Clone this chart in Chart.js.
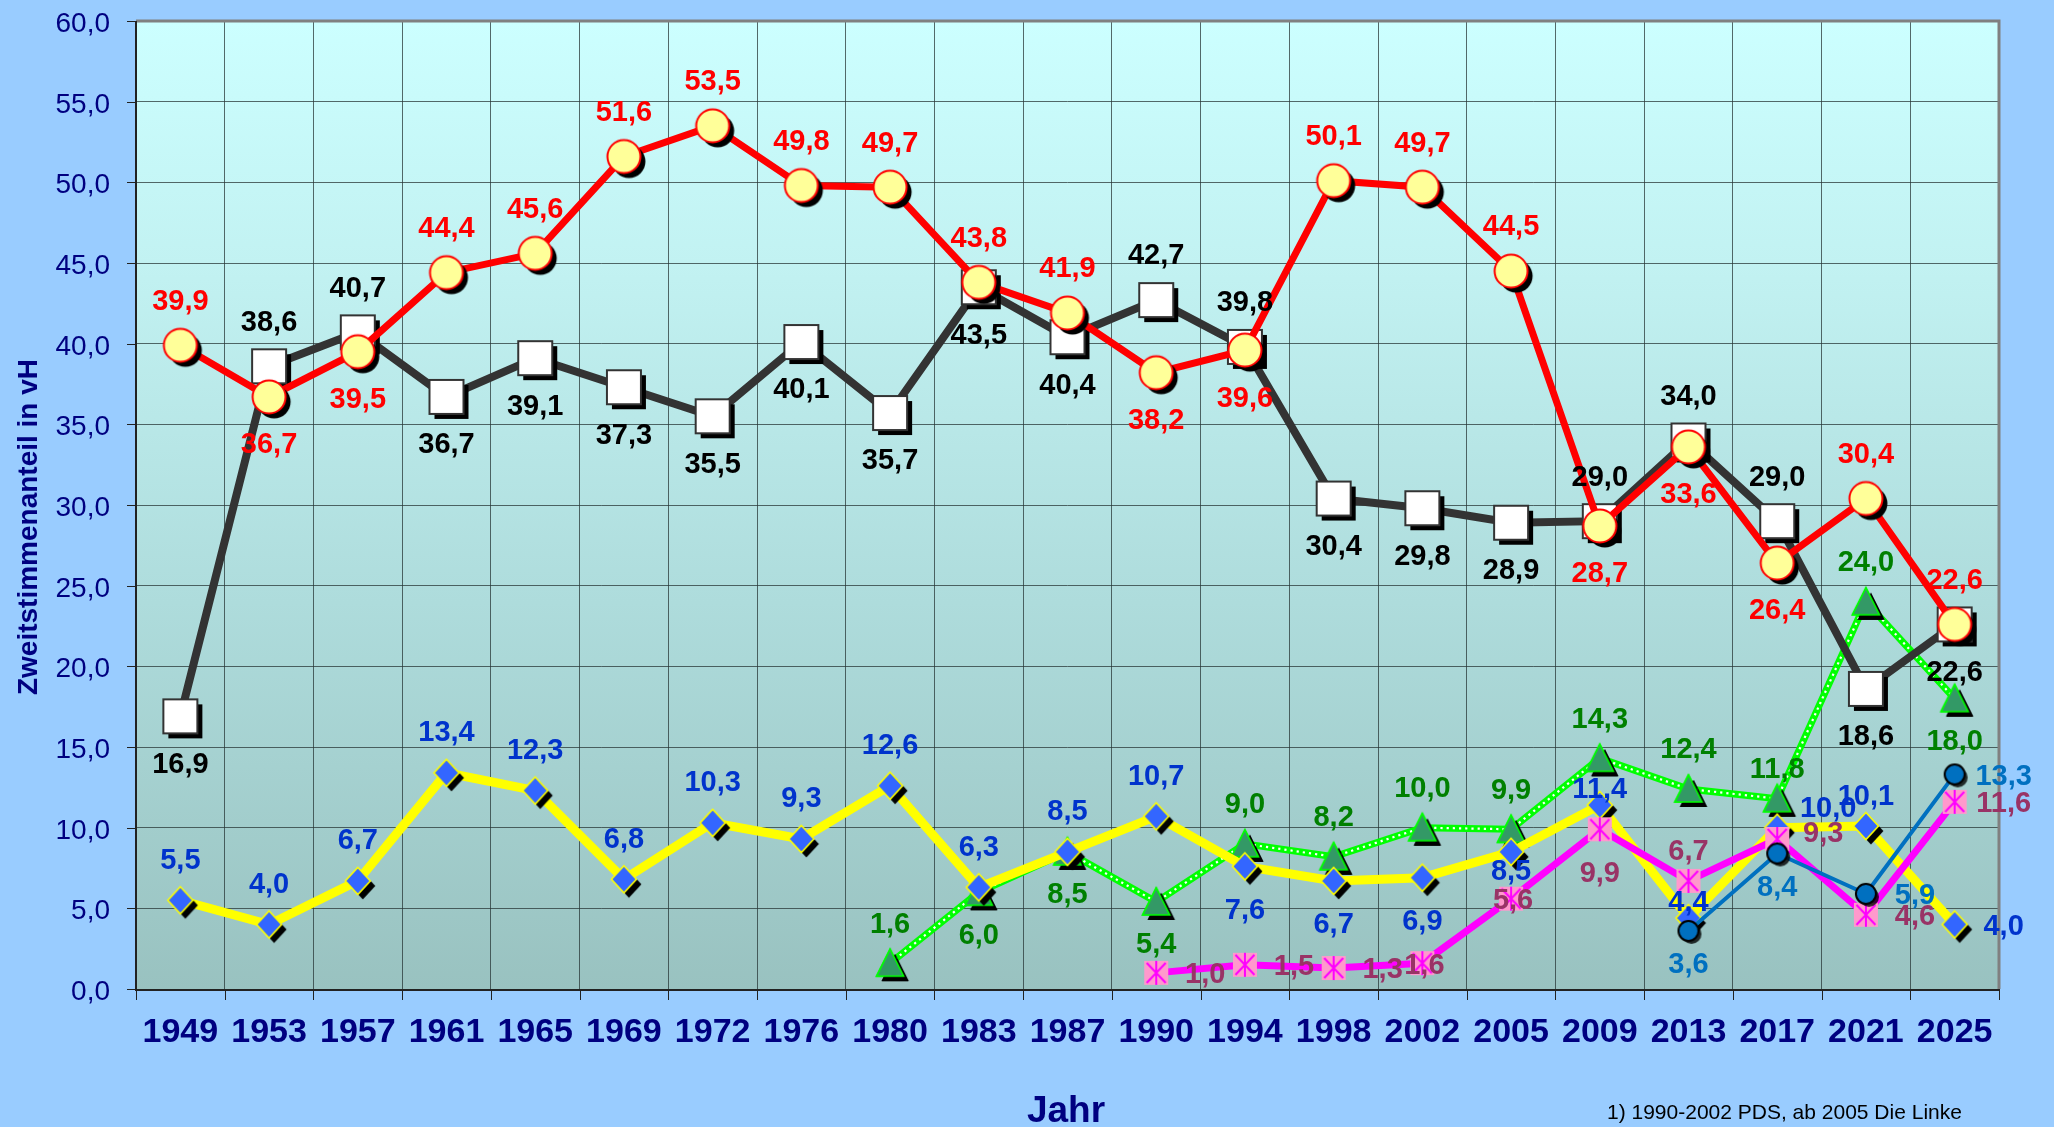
<!DOCTYPE html>
<html>
<head>
<meta charset="utf-8">
<script src="https://cdn.jsdelivr.net/npm/chart.js@4/dist/chart.umd.min.js"></script>
<style>
html,body{margin:0;padding:0;background:#99CCFF;overflow:hidden;}
#c{display:block;}
</style>
</head>
<body>
<canvas id="c" width="2054" height="1127" style="width:2054px;height:1127px"></canvas>
<script>
// ---------------- DATA ----------------
const years = ['1949','1953','1957','1961','1965','1969','1972','1976','1980','1983','1987','1990','1994','1998','2002','2005','2009','2013','2017','2021','2025'];
const yTickLabels = ['0,0','5,0','10,0','15,0','20,0','25,0','30,0','35,0','40,0','45,0','50,0','55,0','60,0'];
const redValues   = [39.9,36.7,39.5,44.4,45.6,51.6,53.5,49.8,49.7,43.8,41.9,38.2,39.6,50.1,49.7,44.5,28.7,33.6,26.4,30.4,22.6];
const blackValues = [16.9,38.6,40.7,36.7,39.1,37.3,35.5,40.1,35.7,43.5,40.4,42.7,39.8,30.4,29.8,28.9,29.0,34.0,29.0,18.6,22.6];
const yellowValues= [5.5,4.0,6.7,13.4,12.3,6.8,10.3,9.3,12.6,6.3,8.5,10.7,7.6,6.7,6.9,8.5,11.4,4.4,10.0,10.1,4.0];
const greenValues = [null,null,null,null,null,null,null,null,1.6,6.0,8.5,5.4,9.0,8.2,10.0,9.9,14.3,12.4,11.8,24.0,18.0];
const pinkValues  = [null,null,null,null,null,null,null,null,null,null,null,1.0,1.5,1.3,1.6,5.6,9.9,6.7,9.3,4.6,11.6];
const blueValues  = [null,null,null,null,null,null,null,null,null,null,null,null,null,null,null,null,null,3.6,8.4,5.9,13.3];
const xTitle = 'Jahr';
const yTitle = 'Zweitstimmenanteil in vH';
const footnote = '1) 1990-2002 PDS, ab 2005 Die Linke';

// label placement codes (a=above, b=below, r=right, c=centre, ...)
const redPlace    = ['a','b','b','a','a','a','a','a','a','a','a','b','b','a','a','a','b','b','b','a','a'];
const blackPlace  = ['b','a','a','b','b','b','b','b','b','b','b','a','a','b','b','b','a','a','a','b','b'];
const yellowPlace = ['a','a','a','a','a','a','a','a','a','a','a','a','b','b','b','bn','an','an','rU','am','r'];
const greenPlace  = [null,null,null,null,null,null,null,null,'a','b','b','b','a','a','a','a','a','a','am','a','b'];
const pinkPlace   = [null,null,null,null,null,null,null,null,null,null,null,'r','r','r','c','c','b','am','ru','r','r'];
const bluePlace   = [null,null,null,null,null,null,null,null,null,null,null,null,null,null,null,null,null,'bm','bm','r','r'];

// ---------------- STYLE ----------------
const FONT = '"Liberation Sans", Arial, sans-serif';
const NAVY = '#000080';

function markerCanvas(size, off, draw) {
  const pad = off + 3;
  let S = Math.ceil(size + 2 * pad); if (S % 2) S++;
  const c = document.createElement('canvas'); c.width = S; c.height = S;
  const g = c.getContext('2d'); const m = S / 2;
  if (off) draw(g, m + off, m + off, true);
  draw(g, m, m, false);
  return c;
}
const circleImg = markerCanvas(34, 5, (g, x, y, sh) => {
  g.beginPath(); g.arc(x, y, 16.5, 0, Math.PI * 2);
  if (sh) { g.fillStyle = '#000'; g.fill(); }
  else { g.fillStyle = '#FFFF99'; g.fill(); g.lineWidth = 2; g.strokeStyle = '#FF0000'; g.stroke(); }
});
const squareImg = markerCanvas(35, 5, (g, x, y, sh) => {
  const h = 17;
  if (sh) { g.fillStyle = '#000'; g.fillRect(x - h, y - h, 2 * h, 2 * h); }
  else { g.fillStyle = '#FFFFFF'; g.fillRect(x - h, y - h, 2 * h, 2 * h); g.lineWidth = 2; g.strokeStyle = '#333'; g.strokeRect(x - h, y - h, 2 * h, 2 * h); }
});
const diamondImg = markerCanvas(28, 5, (g, x, y, sh) => {
  g.beginPath(); g.moveTo(x, y - 13.5); g.lineTo(x + 12.5, y); g.lineTo(x, y + 13.5); g.lineTo(x - 12.5, y); g.closePath();
  if (sh) { g.fillStyle = '#000'; g.fill(); }
  else { g.fillStyle = '#3366FF'; g.fill(); g.lineWidth = 1.6; g.strokeStyle = '#FFFF00'; g.stroke(); }
});
const triangleImg = markerCanvas(29, 5, (g, x, y, sh) => {
  g.beginPath(); g.moveTo(x, y - 14); g.lineTo(x + 13.5, y + 13); g.lineTo(x - 13.5, y + 13); g.closePath();
  if (sh) { g.fillStyle = '#000'; g.fill(); }
  else { g.fillStyle = '#339966'; g.fill(); g.lineWidth = 1.6; g.strokeStyle = '#00FF00'; g.stroke(); }
});
const starImg = markerCanvas(26, 0, (g, x, y) => {
  g.fillStyle = '#FF99CC'; g.fillRect(x - 12, y - 12, 24, 24);
  g.strokeStyle = '#FF00FF'; g.lineWidth = 2;
  g.beginPath();
  g.moveTo(x, y - 12); g.lineTo(x, y + 12);
  g.moveTo(x - 9.5, y - 10); g.lineTo(x + 9.5, y + 10);
  g.moveTo(x + 9.5, y - 10); g.lineTo(x - 9.5, y + 10);
  g.stroke();
});
const dotImg = markerCanvas(22, 3, (g, x, y, sh) => {
  g.beginPath(); g.arc(x, y, 10, 0, Math.PI * 2);
  if (sh) { g.fillStyle = 'rgba(0,0,0,0.8)'; g.fill(); }
  else { g.fillStyle = '#0070C0'; g.fill(); g.lineWidth = 2; g.strokeStyle = '#000'; g.stroke(); }
});

function ds(label, data, color, width, img, place, labelColor, dist, extra) {
  return Object.assign({
    label, data, borderColor: color, backgroundColor: color, borderWidth: width,
    pointStyle: img, pointRadius: 12, tension: 0, fill: false,
    _place: place, _labelColor: labelColor, _dist: dist
  }, extra || {});
}

const datasets = [
  ds('Rot', redValues, '#FF0000', 7, circleImg, redPlace, '#FF0000', 46),
  ds('Schwarz', blackValues, '#333333', 8, squareImg, blackPlace, '#000000', 46),
  ds('Blau', blueValues, '#0070C0', 4, dotImg, bluePlace, '#0070C0', 42),
  ds('Linke 1)', pinkValues, '#FF00FF', 7, starImg, pinkPlace, '#993366', 42),
  ds('Gelb', yellowValues, '#FFFF00', 9, diamondImg, yellowPlace, '#0033CC', 42),
  ds('Grün', greenValues, '#00FF00', 7, triangleImg, greenPlace, '#008000', 41, {_dotted: true})
];

function placeOffset(code, d) {
  switch (code) {
    case 'a': return [0, -d];
    case 'b': return [0, d];
    case 'r': return [49, 0];
    case 'c': return [2, 0];
    case 'an': return [0, -17];
    case 'bn': return [0, 18];
    case 'am': return [0, -31];
    case 'bm': return [0, 32];
    case 'ru': return [46, -7];
    case 'rU': return [51, -21];
  }
  return [0, -d];
}

function fmt(v) { return v.toFixed(1).replace('.', ','); }

function capText(ctx, s, x, y, size, bold, color, align) {
  ctx.font = (bold ? 'bold ' : '') + size + 'px ' + FONT;
  ctx.fillStyle = color; ctx.textAlign = align || 'center'; ctx.textBaseline = 'alphabetic';
  ctx.fillText(s, x, y + size * 0.716 / 2);
}

const bgPlugin = {
  id: 'bg',
  beforeDraw(chart) {
    const ctx = chart.ctx, a = chart.chartArea;
    ctx.save();
    ctx.fillStyle = '#99CCFF'; ctx.fillRect(0, 0, chart.width, chart.height);
    const gr = ctx.createLinearGradient(0, a.top, 0, a.bottom);
    gr.addColorStop(0, '#CCFFFF'); gr.addColorStop(0.25, '#C2F2F2'); gr.addColorStop(0.6, '#AEDCDC'); gr.addColorStop(1, '#99C2C0');
    ctx.fillStyle = gr; ctx.fillRect(a.left, a.top, a.right - a.left, a.bottom - a.top);
    ctx.restore();
  },
  afterDatasetDraw(chart, args) {
    const d = chart.data.datasets[args.index];
    if (!d._dotted) return;
    const ctx = chart.ctx; const pts = args.meta.data.filter(p => !p.skip);
    ctx.save();
    ctx.strokeStyle = '#FFFFFF'; ctx.lineWidth = 2.2; ctx.setLineDash([2.2, 4]);
    ctx.beginPath();
    pts.forEach((p, i) => i ? ctx.lineTo(p.x, p.y) : ctx.moveTo(p.x, p.y));
    ctx.stroke();
    ctx.restore();
    pts.forEach(p => p.draw(ctx, chart.chartArea));
  },
  afterDraw(chart) {
    const ctx = chart.ctx, a = chart.chartArea;
    const xs = chart.scales.x, ys = chart.scales.y;
    ctx.save();
    // borders
    ctx.strokeStyle = '#808080'; ctx.lineWidth = 3;
    ctx.beginPath(); ctx.moveTo(a.left, a.top); ctx.lineTo(a.right, a.top); ctx.lineTo(a.right, a.bottom); ctx.stroke();
    ctx.strokeStyle = '#222'; ctx.lineWidth = 2;
    ctx.beginPath(); ctx.moveTo(a.left, a.top); ctx.lineTo(a.left, a.bottom + 1); ctx.lineTo(a.right, a.bottom + 1); ctx.stroke();
    // y ticks + labels
    ctx.lineWidth = 1; ctx.strokeStyle = '#222';
    ys.ticks.forEach((t, i) => {
      const y = Math.round(ys.getPixelForValue(t.value)) + 0.5;
      ctx.beginPath(); ctx.moveTo(a.left - 9, y); ctx.lineTo(a.left, y); ctx.stroke();
      capText(ctx, yTickLabels[i], 110, y, 28, false, NAVY, 'right');
    });
    // x ticks + labels
    const band = xs.getPixelForValue(1) - xs.getPixelForValue(0);
    years.forEach((yr, i) => {
      const cx = xs.getPixelForValue(i);
      const bx = Math.round(cx - band / 2) + 0.5;
      ctx.beginPath(); ctx.moveTo(bx, a.bottom); ctx.lineTo(bx, a.bottom + 11); ctx.stroke();
      capText(ctx, yr, cx, 1030, 34, true, NAVY, 'center');
    });
    const lastB = Math.round(xs.getPixelForValue(years.length - 1) + band / 2) + 0.5;
    ctx.beginPath(); ctx.moveTo(lastB, a.bottom); ctx.lineTo(lastB, a.bottom + 11); ctx.stroke();
    // titles
    ctx.save();
    ctx.translate(27, 527); ctx.rotate(-Math.PI / 2);
    capText(ctx, yTitle, 0, 0, 28, true, NAVY, 'center');
    ctx.restore();
    ctx.font = 'bold 37px ' + FONT; ctx.fillStyle = NAVY; ctx.textAlign = 'center'; ctx.textBaseline = 'alphabetic';
    ctx.fillText(xTitle, 1066, 1122);
    ctx.font = '21px ' + FONT; ctx.fillStyle = '#000000'; ctx.textAlign = 'left';
    ctx.fillText(footnote, 1607, 1119);
    // data labels (reverse so first dataset ends on top)
    for (let di = chart.data.datasets.length - 1; di >= 0; di--) {
      const d = chart.data.datasets[di];
      const meta = chart.getDatasetMeta(di);
      d.data.forEach((v, i) => {
        if (v === null) return;
        const p = meta.data[i];
        const [dx, dy] = placeOffset(d._place[i], d._dist);
        capText(ctx, fmt(v), p.x + dx, p.y + dy, 29, true, d._labelColor, 'center');
      });
    }
    ctx.restore();
  }
};

const GRID = 'rgba(40,55,55,0.75)';
new Chart(document.getElementById('c'), {
  type: 'line',
  data: { labels: years, datasets },
  options: {
    responsive: false, animation: false, devicePixelRatio: 1, events: [],
    layout: { padding: { left: 136, right: 55, top: 21, bottom: 138 } },
    plugins: { legend: { display: false }, tooltip: { enabled: false } },
    scales: {
      x: { offset: true, grid: { offset: true, color: GRID, lineWidth: 1, drawTicks: false }, border: { display: false }, ticks: { display: false } },
      y: { min: 0, max: 60, ticks: { display: false, stepSize: 5 }, grid: { color: GRID, lineWidth: 1, drawTicks: false }, border: { display: false } }
    }
  },
  plugins: [bgPlugin]
});
</script>
</body>
</html>
